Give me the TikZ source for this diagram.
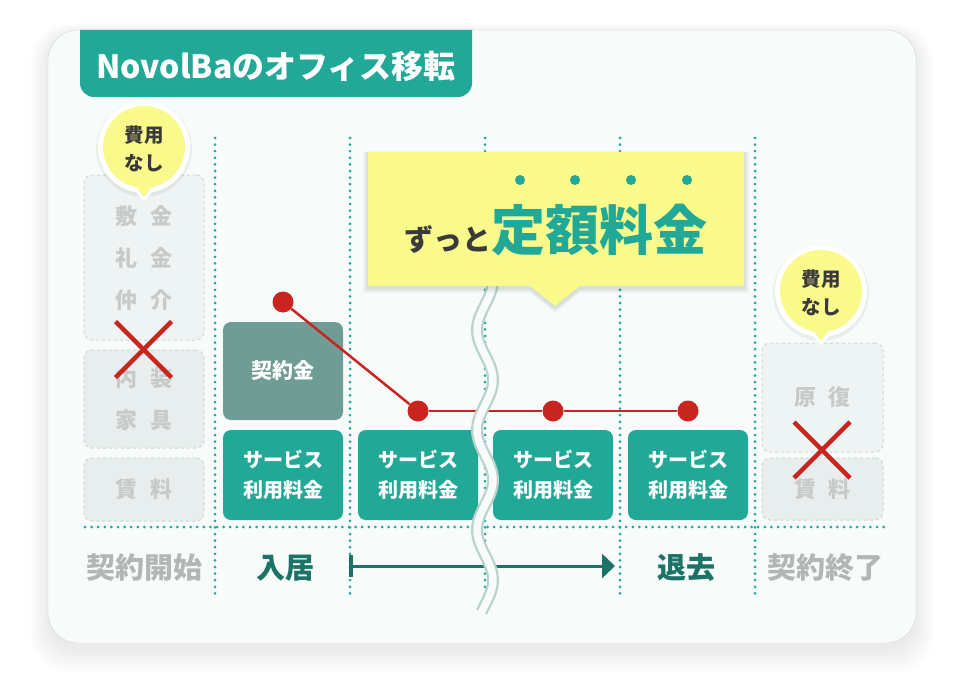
\documentclass[tikz,border=0pt]{standalone}
\usepackage{fontspec}
\setmainfont{Noto Sans CJK JP}
\usepackage{tikz}
\usetikzlibrary{arrows.meta, positioning}
\definecolor{novoteal}{HTML}{22A897}
\definecolor{darkteal}{HTML}{1B7367}
\definecolor{depositgray}{HTML}{6F9C94}
\definecolor{memoyellow}{HTML}{FAF98C}
\definecolor{crossred}{HTML}{C82420}
\definecolor{fadedtext}{HTML}{C6CBCA}
\definecolor{fadedfill}{HTML}{EEF4F3}
\definecolor{fadedline}{HTML}{CCD7D5}
\definecolor{cardfill}{HTML}{F7FBFA}
\definecolor{wavegray}{HTML}{B9D2CE}
\definecolor{inktext}{HTML}{3A3A3A}

\begin{document}
\begin{tikzpicture}[x=1pt, y=-1pt,
    svcbox/.style={rectangle, rounded corners=8pt, fill=novoteal, text=white, minimum width=120pt, minimum height=90pt, inner sep=0pt, align=center, font=\bfseries\fontsize{20}{30}\selectfont},
    gonebox/.style={rectangle, rounded corners=8pt, draw=fadedline, dashed, line width=1pt, fill=fadedfill, text=fadedtext, minimum width=120pt, inner sep=0pt, align=center, font=\bfseries\fontsize{22}{42}\selectfont},
    guide/.style={draw=novoteal, line width=3pt, line cap=round, dash pattern=on 0pt off 6.6pt},
    reddot/.style={circle, fill=crossred, minimum size=21pt, inner sep=0pt},
    redline/.style={draw=crossred, line width=2.5pt},
    crossmark/.style={draw=crossred, line width=4.5pt},
    steplabel/.style={font=\bfseries\fontsize{29}{32}\selectfont},
    bubbletext/.style={text=inktext, align=center, font=\bfseries\fontsize{19.5}{28}\selectfont}]

    \useasboundingbox (0,0) rectangle (965,687);
    \fill[white] (0,0) rectangle (965,687);

    \foreach \k in {0,...,9}
        \fill[black, opacity=0.009, rounded corners=30pt+\k pt] (48-2*\k,34-1.2*\k) rectangle (916+2*\k,650+2.6*\k);
    \draw[fadedline, fill=cardfill, rounded corners=30pt] (48,30) rectangle (916,643);

    \fill[novoteal] (80,30) {[rounded corners=14pt] -- (80,97) -- (472,97)} -- (472,30) -- cycle;
    \node[text=white, font=\bfseries\fontsize{32}{36}\selectfont] at (276,66) (title) {NovolBaのオフィス移転};

    \foreach \gx in {215,350,485,620,755}
        \draw[guide] (\gx,138) -- (\gx,595);
    \draw[guide] (85,527) -- (885,527);

    \node[gonebox, minimum height=165pt] at (144,257.5) (deposit) {敷\hspace{13pt}金\\礼\hspace{13pt}金\\仲\hspace{13pt}介};
    \node[gonebox, minimum height=98pt, fill=fadedfill!80!fadedline] at (144,399) (interior) {内\hspace{13pt}装\\家\hspace{13pt}具};
    \node[gonebox, minimum height=63pt, fill=fadedfill!80!fadedline] at (144,489.5) (rentin) {賃\hspace{13pt}料};

    \node[gonebox, minimum height=109pt, minimum width=121pt] at (822.5,397.5) (restore) {原\hspace{13pt}復};
    \node[gonebox, minimum height=62pt, minimum width=121pt, fill=fadedfill!80!fadedline] at (822.5,489) (rentout) {賃\hspace{13pt}料};

    \node[rectangle, rounded corners=8pt, fill=depositgray, text=white, minimum width=120pt, minimum height=98pt, font=\bfseries\fontsize{21}{25}\selectfont] at (283,371) (contract) {契約金};
    \node[svcbox] at (283,475) (fee1) {サービス\\利用料金};
    \node[svcbox] at (418,475) (fee2) {サービス\\利用料金};
    \node[svcbox] at (553,475) (fee3) {サービス\\利用料金};
    \node[svcbox] at (688,475) (fee4) {サービス\\利用料金};

    \node[reddot] at (283,302) (c1) {};
    \node[reddot] at (418,411) (c2) {};
    \node[reddot] at (553,411) (c3) {};
    \node[reddot] at (688,411) (c4) {};
    \draw[redline] (c1) -- (c2);
    \draw[redline] (c2) -- (c3);
    \draw[redline] (c3) -- (c4);

    \node[steplabel, text=fadedtext!90!black] at (144,568) (start) {契約開始};
    \node[steplabel, text=darkteal] at (285,568) (movein) {入居};
    \node[steplabel, text=darkteal] at (686,568) (moveout) {退去};
    \node[steplabel, text=fadedtext!90!black] at (825,568) (finish) {契約終了};
    \coordinate (stayfrom) at (349,566);
    \coordinate (stayto) at (615,566);
    \draw[darkteal, line width=3pt, {Bar[width=22pt, line width=4pt]}-{Triangle[width=24pt, length=13pt]}] (stayfrom) -- (stayto);

    \draw[wavegray, line width=12pt] plot[smooth, domain=284:612, samples=90] ({485+8*sin((\x-355)*3.6)}, \x);
    \draw[cardfill, line width=7.5pt] plot[smooth, domain=282:614, samples=90] ({485+8*sin((\x-355)*3.6)}, \x);

    \foreach \k in {1,...,5}
        \fill[black, opacity=0.025] (368-\k,152) -- (744+\k,152) -- (744+\k,288+\k) -- (580,288+\k) -- (555,308+\k) -- (530,288+\k) -- (368-\k,288+\k) -- cycle;
    \fill[memoyellow] (368,152) -- (744,152) -- (744,286) -- (580,286) -- (555,306) -- (530,286) -- (368,286) -- cycle;
    \node[anchor=base, inner sep=0pt] at (556,250) (flat) {{\fontsize{29}{32}\selectfont\bfseries\color{inktext}ずっと}{\fontsize{54}{60}\selectfont\bfseries\color{novoteal}定額料金}};
    \foreach \dx in {520,575,631,687}
        \fill[novoteal] (\dx,180) circle (5pt);

    \foreach \bx/\by in {144/147, 821/291} {
        \fill[black, opacity=0.05] (\bx,\by+2) circle (48pt);
        \fill[white] (\bx,\by) circle (46pt);
        \fill[white] (\bx-12,\by+40) -- (\bx,\by+55) -- (\bx+12,\by+40) -- cycle;
        \fill[memoyellow] (\bx,\by) circle (41pt);
        \fill[memoyellow] (\bx-9,\by+38) -- (\bx,\by+50) -- (\bx+9,\by+38) -- cycle;
    }
    \node[bubbletext] at (144,149) (nofee1) {費用\\なし};
    \node[bubbletext] at (821,293) (nofee2) {費用\\なし};

    \coordinate (xleft) at (143.5,349.5);
    \coordinate (xright) at (822,450);
    \draw[crossmark] ([shift={(-28,-28)}]xleft) -- ([shift={(28,28)}]xleft);
    \draw[crossmark] ([shift={(-28,28)}]xleft) -- ([shift={(28,-28)}]xleft);
    \draw[crossmark] ([shift={(-28,-28)}]xright) -- ([shift={(28,28)}]xright);
    \draw[crossmark] ([shift={(-28,28)}]xright) -- ([shift={(28,-28)}]xright);
\end{tikzpicture}
\end{document}
